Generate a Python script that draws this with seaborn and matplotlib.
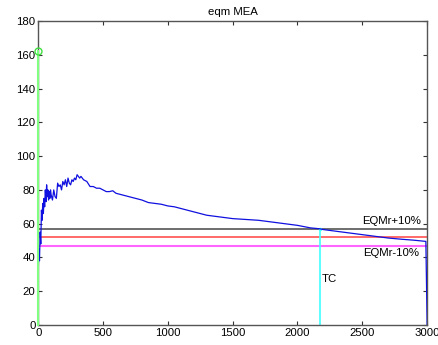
import numpy as np
import pandas as pd
import matplotlib
matplotlib.use("Agg")
import matplotlib.pyplot as plt
import seaborn as sns

# error curve (iteration, eqm)
iters = [0, 5, 10, 15, 20, 25, 30, 35, 40, 45, 50, 55, 60, 65, 70, 75, 80, 85, 90, 95,
         100, 110, 120, 130, 140, 150, 160, 170, 180, 190, 200, 210, 220, 230, 240, 250,
         260, 270, 280, 290, 300, 310, 320, 330, 340, 350, 375, 400, 425, 450, 475, 500,
         525, 550, 575, 600, 650, 700, 750, 800, 850, 900, 950, 1000, 1050, 1100, 1150,
         1200, 1250, 1300, 1350, 1400, 1500, 1600, 1700, 1800, 1900, 2000, 2100, 2170,
         2200, 2300, 2400, 2500, 2600, 2700, 2800, 2900, 2990, 3000]
eqm = [31, 45, 38, 55, 48, 68, 62, 72, 66, 75, 70, 80, 73, 83, 76, 80, 74, 79, 75, 80,
       77, 74, 80, 76, 75, 84, 82, 83, 80, 85, 83, 86, 82, 87, 84, 83,
       86, 85, 87, 86, 89, 88, 87, 88, 87, 86, 85, 82, 82, 81, 81, 80,
       79, 79, 79.5, 78, 77, 76, 75, 74, 72.5, 72, 71.5, 70.5, 70, 69, 68,
       67, 66, 65, 64.5, 64, 63, 62.5, 62, 61, 60, 59, 57.5, 57,
       56.5, 55.5, 54.5, 53.5, 52.5, 51.5, 50.8, 50.2, 49.5, 0]

eqmr = 52
limits = {"EQMr+10%": 57, "EQMr-10%": 47}
start_val = 162
tc_iter = 2170
tc_val = 57

df = pd.DataFrame({"iter": iters, "eqm": eqm})

plt.rcParams["font.family"] = ["Liberation Sans", "DejaVu Sans"]
fig, ax = plt.subplots(figsize=(4.39, 3.45), dpi=100)
fig.subplots_adjust(left=0.087, right=0.973, top=0.939, bottom=0.058)

sns.lineplot(data=df, x="iter", y="eqm", color="#1010e0", lw=0.9,
             estimator=None, sort=False, ax=ax, zorder=3)

ax.axhline(limits["EQMr+10%"], color="#555555", lw=1.2)
ax.axhline(eqmr, color="#ff5050", lw=1.2)
ax.axhline(limits["EQMr-10%"], color="#ff66ff", lw=1.5)

ax.plot([0, 0], [0, start_val], color="#80ff80", lw=1.5, clip_on=False, zorder=5)
ax.plot([0], [start_val], marker="o", mfc="none", mec="#40e040", ms=5,
        clip_on=False, zorder=5)
ax.plot([tc_iter, tc_iter], [0, tc_val], color="#40ffff", lw=1.2)
ax.plot([tc_iter], [tc_val], marker=".", color="#40ffff", ms=3)

fs = 8.2
ax.text(2950, 58.5, "EQMr+10%", ha="right", va="bottom", fontsize=fs)
ax.text(2940, 45.5, "EQMr-10%", ha="right", va="top", fontsize=fs)
ax.text(tc_iter + 15, 27, "TC", ha="left", va="center", fontsize=fs)

ax.set_xlim(0, 3000)
ax.set_ylim(0, 180)
ax.set_xticks(range(0, 3001, 500))
ax.set_yticks(range(0, 181, 20))
ax.set_xlabel("")
ax.set_ylabel("")
ax.set_title("eqm MEA", fontsize=fs, pad=4)
ax.tick_params(direction="in", top=True, right=True, labelsize=fs, length=3,
               color="#333333", pad=2)
for s in ax.spines.values():
    s.set_color("#555555")
    s.set_linewidth(1)

fig.savefig("out.png", dpi=100)
